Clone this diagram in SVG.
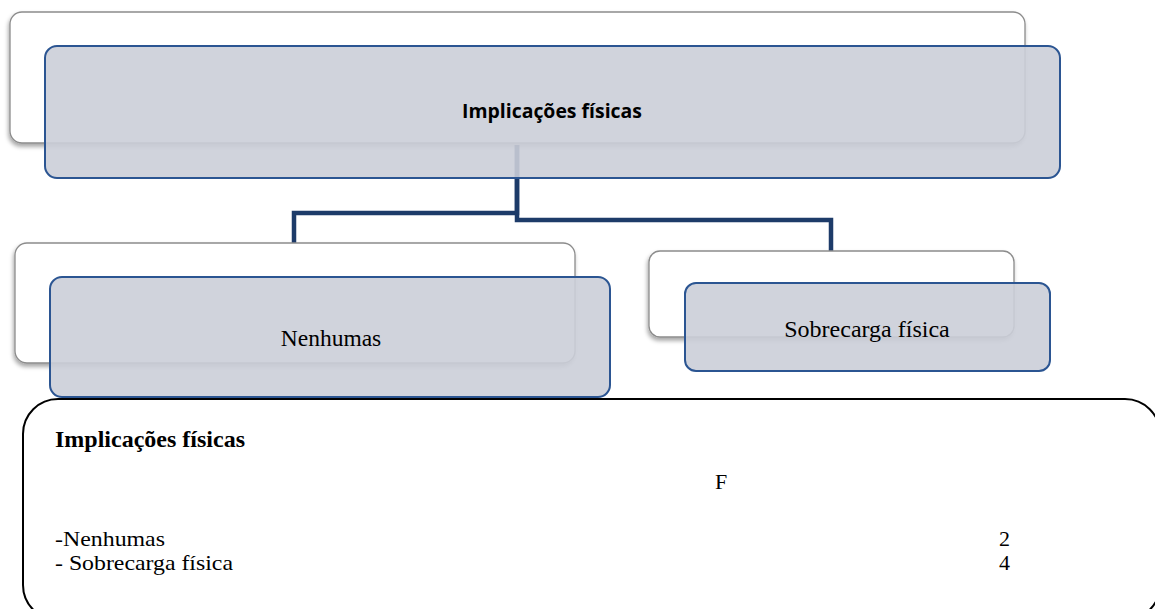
<svg xmlns="http://www.w3.org/2000/svg" width="1155" height="609" viewBox="0 0 1155 609">
  <defs>
    <filter id="shadow" x="-5%" y="-10%" width="110%" height="130%">
      <feDropShadow dx="-1" dy="3" stdDeviation="2" flood-color="#000" flood-opacity="0.35"/>
    </filter>
    <style>
      .back { fill: #ffffff; stroke: #8c8c8c; stroke-width: 1.3; }
      .front { fill: #cbced8; fill-opacity: 0.9; stroke: #2b5592; stroke-width: 2; }
      .link { fill: none; stroke: #1d3b69; stroke-width: 4.5; stroke-linejoin: miter; }
      .sans { font-family: "Open Sans", "Liberation Sans", sans-serif; font-weight: 700; fill: #000; }
      .serif { font-family: "Liberation Serif", "DejaVu Serif", serif; fill: #000; }
    </style>
  </defs>
  <rect width="1155" height="609" fill="#ffffff"/>

  <!-- connectors (drawn first so the translucent boxes sit over them) -->
  <g id="connectors">
    <path class="link" d="M517,145 V213 H294 V244"/>
    <path class="link" d="M517,145 V220 H831 V252"/>
  </g>

  <!-- root node -->
  <g id="node-root">
    <rect class="back" x="10" y="12" width="1015" height="131" rx="12" filter="url(#shadow)"/>
    <rect class="front" x="45" y="46" width="1015" height="132" rx="12"/>
    <text class="sans" x="552" y="118" font-size="19" text-anchor="middle" textLength="180" lengthAdjust="spacingAndGlyphs">Implicações físicas</text>
  </g>

  <!-- child: Nenhumas -->
  <g id="node-nenhumas">
    <rect class="back" x="15" y="243" width="560" height="120" rx="12" filter="url(#shadow)"/>
    <rect class="front" x="50" y="277" width="560" height="120" rx="12"/>
    <text class="serif" x="331" y="346" font-size="23.5" text-anchor="middle">Nenhumas</text>
  </g>

  <!-- child: Sobrecarga física -->
  <g id="node-sobrecarga">
    <rect class="back" x="649" y="251" width="365" height="86" rx="11" filter="url(#shadow)"/>
    <rect class="front" x="685" y="283" width="365" height="88" rx="11"/>
    <text class="serif" x="867" y="337" font-size="24" text-anchor="middle">Sobrecarga física</text>
  </g>

  <!-- summary table -->
  <g id="table">
    <rect x="23" y="399" width="1137" height="221" rx="35" fill="none" stroke="#000" stroke-width="2"/>
    <text class="serif" x="55" y="447" font-size="23" font-weight="700" textLength="190" lengthAdjust="spacingAndGlyphs">Implicações físicas</text>
    <text class="serif" x="715" y="489" font-size="22">F</text>
    <text class="serif" x="55" y="546" font-size="21" textLength="110" lengthAdjust="spacingAndGlyphs">-Nenhumas</text>
    <text class="serif" x="55" y="570" font-size="21" textLength="178" lengthAdjust="spacingAndGlyphs">- Sobrecarga física</text>
    <text class="serif" x="999" y="546" font-size="22">2</text>
    <text class="serif" x="999" y="570" font-size="22">4</text>
  </g>
</svg>
